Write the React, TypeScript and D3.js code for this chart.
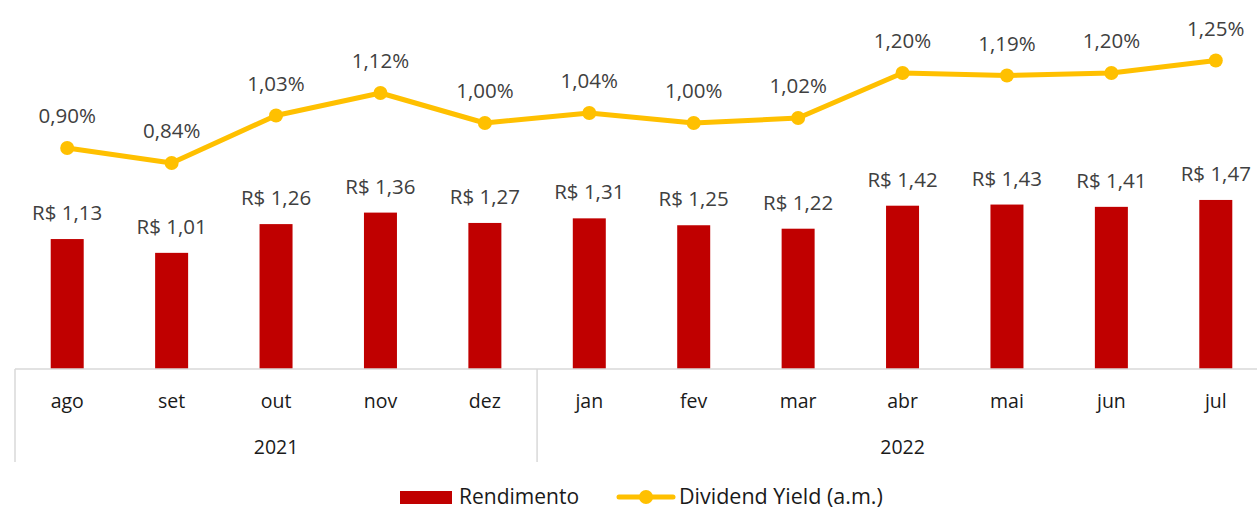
import React from "react";
import * as d3 from "d3";

const months = ["ago", "set", "out", "nov", "dez", "jan", "fev", "mar", "abr", "mai", "jun", "jul"];
const years = [
  { label: "2021", start: 0, end: 5 },
  { label: "2022", start: 5, end: 12 },
];
const rendimento = [1.13, 1.01, 1.26, 1.36, 1.27, 1.31, 1.25, 1.22, 1.42, 1.43, 1.41, 1.47];
const dividendYield = [0.9, 0.84, 1.03, 1.12, 1.0, 1.04, 1.0, 1.02, 1.2, 1.19, 1.2, 1.25];

const W = 1257;
const H = 510;
const FONT = "'Open Sans', 'Liberation Sans', sans-serif";

export default function App() {
  const x = d3.scaleBand<number>().domain(d3.range(months.length)).range([15, 1268]).paddingInner(0).paddingOuter(0);
  const step = x.step();
  const barW = 33;
  const yBar = d3.scaleLinear().domain([0, 3.2]).range([369, 1]);
  const yLine = d3.scaleLinear().domain([0, 1.4]).range([373, 23]);
  const cx = (i: number) => (x(i) as number) + step / 2;
  const line = d3.line<number>().x((_, i) => cx(i)).y((d) => yLine(d));
  const fmtBRL = (v: number) => "R$ " + v.toFixed(2).replace(".", ",");
  const fmtPct = (v: number) => v.toFixed(2).replace(".", ",") + "%";
  const axisY = yBar(0);

  return (
    <svg width={W} height={H} style={{ position: "absolute", left: 0, top: 0, background: "#fff" }} fontFamily={FONT}>
      {rendimento.map((v, i) => (
        <rect key={"b" + i} x={cx(i) - barW / 2} y={yBar(v)} width={barW} height={axisY - yBar(v)} fill="#C00000" />
      ))}
      {rendimento.map((v, i) => (
        <text key={"bl" + i} x={cx(i)} y={yBar(v) - 19} textAnchor="middle" fontSize={20.5} fill="#404040">
          {fmtBRL(v)}
        </text>
      ))}
      <line x1={15} x2={1268} y1={axisY} y2={axisY} stroke="#D9D9D9" strokeWidth={1.5} />
      {[0, 5, 12].map((k) => (
        <line key={"v" + k} x1={(x(0) as number) + k * step} x2={(x(0) as number) + k * step} y1={axisY} y2={462} stroke="#D9D9D9" strokeWidth={1.5} />
      ))}
      {months.map((m, i) => (
        <text key={"m" + i} x={cx(i)} y={408} textAnchor="middle" fontSize={19.5} fill="#1a1a1a">
          {m}
        </text>
      ))}
      {years.map((yr) => (
        <text
          key={yr.label}
          x={(x(0) as number) + ((yr.start + yr.end) / 2) * step}
          y={454}
          textAnchor="middle"
          fontSize={19.5}
          fill="#1a1a1a"
        >
          {yr.label}
        </text>
      ))}
      <path d={line(dividendYield) || ""} fill="none" stroke="#FFC000" strokeWidth={5} strokeLinejoin="round" />
      {dividendYield.map((v, i) => (
        <circle key={"p" + i} cx={cx(i)} cy={yLine(v)} r={7} fill="#FFC000" />
      ))}
      {dividendYield.map((v, i) => (
        <text key={"pl" + i} x={cx(i)} y={yLine(v) - 25} textAnchor="middle" fontSize={20.5} fill="#404040">
          {fmtPct(v)}
        </text>
      ))}
      <g>
        <rect x={400} y={491} width={52} height={13} fill="#C00000" />
        <text x={459} y={504} fontSize={21} fill="#1a1a1a">Rendimento</text>
        <line x1={619} x2={673} y1={497} y2={497} stroke="#FFC000" strokeWidth={5} strokeLinecap="round" />
        <circle cx={646} cy={497} r={7} fill="#FFC000" />
        <text x={679} y={504} fontSize={21.5} fill="#1a1a1a">Dividend Yield (a.m.)</text>
      </g>
    </svg>
  );
}
